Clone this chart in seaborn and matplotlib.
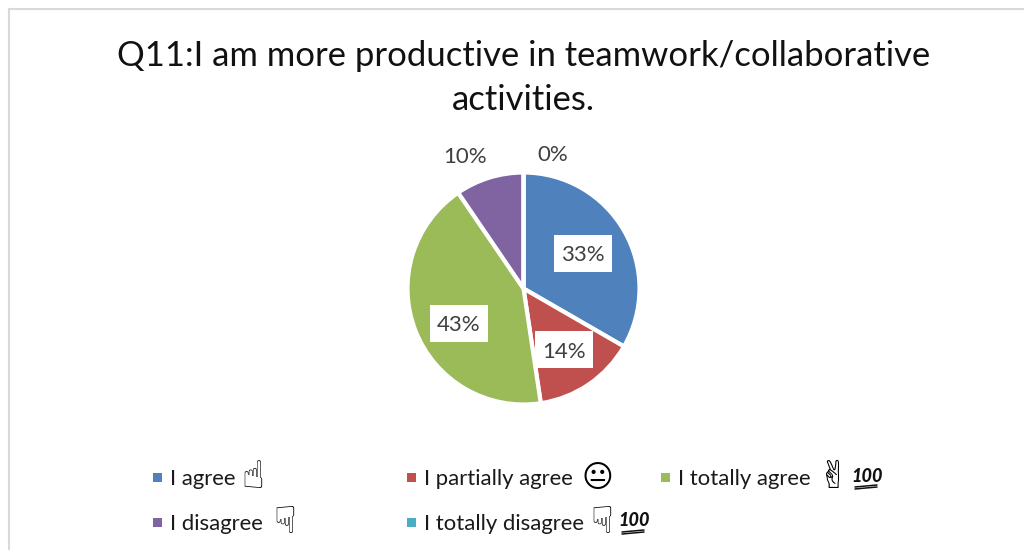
import numpy as np
import matplotlib
matplotlib.use("Agg")
import matplotlib.pyplot as plt
import seaborn as sns
from matplotlib.lines import Line2D
from matplotlib.patches import Rectangle

title = "Q11:I am more productive in teamwork/collaborative\nactivities."
categories = ["I agree", "I partially agree", "I totally agree", "I disagree", "I totally disagree"]
responses = [7, 3, 9, 2, 0]
colors = ["#4F81BD", "#C0504D", "#9BBB59", "#8064A2", "#4BACC6"]
icons = ["\u261D", "\U0001F610", "\u270C", "\u261F", "\u261F"]
hundreds = [False, False, True, False, True]

W, H = 1024, 550
TEXT = "#404040"

sns.set_theme(style="white")
plt.rcParams["font.family"] = ["Lato", "DejaVu Sans"]


def fx(px):
    return px / W


def fy(py):
    return 1 - py / H


fig = plt.figure(figsize=(W / 100, H / 100), dpi=100, facecolor="white")

# Chart frame: only the top and left edges fall inside the image
fig.add_artist(Line2D([fx(8.5), fx(8.5)], [fy(8.5), 0], color="#D9D9D9", lw=1.5))
fig.add_artist(Line2D([fx(8.5), 1], [fy(8.5), fy(8.5)], color="#D9D9D9", lw=1.5))

fig.text(fx(523.5), fy(78), title, ha="center", va="center", fontsize=24.95,
         color="#111111", linespacing=1.5)

# Pie, clockwise from twelve o'clock
radius_px = 116
ax = fig.add_axes([fx(523.5 - radius_px), fy(288.5 + radius_px),
                   2 * radius_px / W, 2 * radius_px / H])
ax.pie(responses, colors=sns.color_palette(colors), startangle=90, counterclock=False,
       radius=1, wedgeprops=dict(edgecolor="white", linewidth=3))
ax.set_xlim(-1, 1)
ax.set_ylim(-1, 1)
ax.set_aspect("equal")

# Percentage labels: the three larger slices sit on white boxes
percents = [round(100 * v / sum(responses)) for v in responses]
label_spots = [(583, 253, True), (564, 349.5, True), (459, 323, True), (465, 156, False), (553, 154, False)]
for pct, (cx, cy, boxed) in zip(percents, label_spots):
    if boxed:
        fig.add_artist(Rectangle((fx(cx - 29), fy(cy + 18.5)), 58 / W, 37 / H,
                                 transform=fig.transFigure, facecolor="white", edgecolor="none"))
    fig.text(fx(cx), fy(cy + 2 if boxed else cy + 1), f"{pct}%", ha="center", va="center",
             fontsize=16, color=TEXT)

# Legend rows: swatch, name, hand or face sign, and the optional "100" stamp
legend_spots = [(157.5, 477), (411.5, 477), (665.5, 477), (157.5, 522), (411.5, 522)]
icon_x = [253, 597, 834, 285, 602]
icon_sizes = [27, 22, 27, 27, 27]
hundred_x = [0, 0, 867, 0, 634]
for i, (name, color, (mx, my)) in enumerate(zip(categories, colors, legend_spots)):
    fig.add_artist(Rectangle((fx(mx - 4.5), fy(my + 4.5)), 9 / W, 9 / H, transform=fig.transFigure,
                             facecolor=color, edgecolor="none"))
    fig.text(fx(mx + 12.5), fy(my + 2), name, ha="left", va="center", fontsize=15.9, color="#1A1A1A")
    fig.text(fx(icon_x[i]), fy(my + 1), icons[i], ha="center", va="center", fontsize=icon_sizes[i],
             fontweight="bold", color="#000000", family="DejaVu Sans")
    if hundreds[i]:
        hx = hundred_x[i]
        fig.text(fx(hx), fy(my - 1), "100", ha="center", va="center", fontsize=13,
                 fontweight="black", fontstyle="italic", color="#111111")
        for off in (9, 11):
            fig.add_artist(Line2D([fx(hx - 12), fx(hx + 10)], [fy(my + off + 1), fy(my + off - 1)],
                                  color="#111111", lw=1.1))

fig.savefig("out.png", dpi=100)
